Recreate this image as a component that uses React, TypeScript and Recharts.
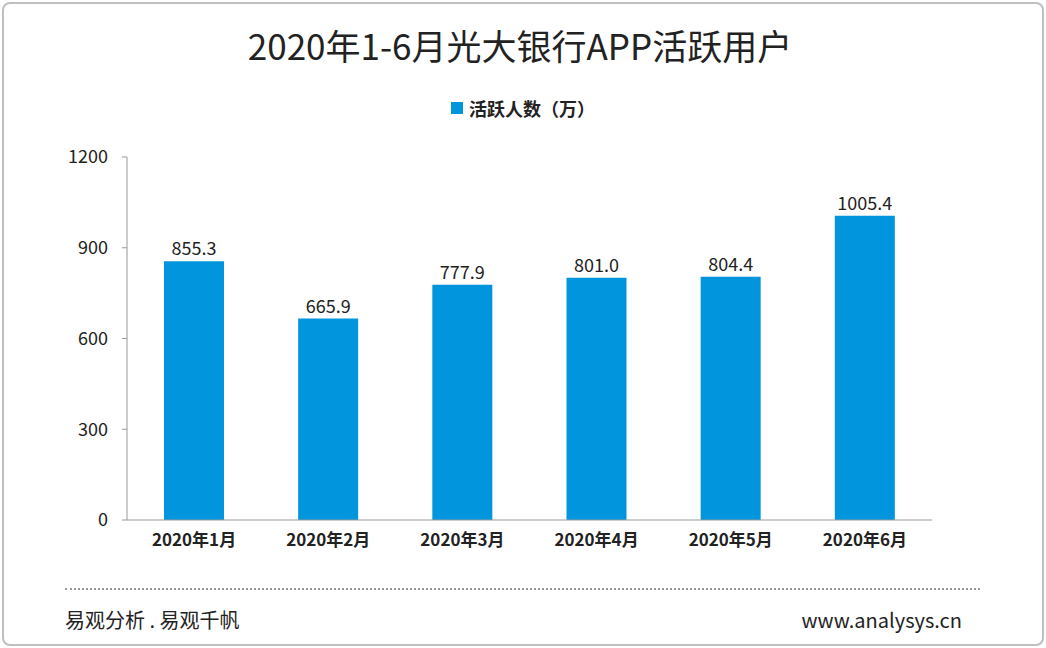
import { BarChart, Bar, XAxis, YAxis, LabelList } from "recharts"

const months = ["2020年1月", "2020年2月", "2020年3月", "2020年4月", "2020年5月", "2020年6月"]
const activeUsers = [855.3, 665.9, 777.9, 801.0, 804.4, 1005.4]
const yTicks = [0, 300, 600, 900, 1200]

const data = months.map((m, i) => ({ month: m, value: activeUsers[i] }))
const font = "'Noto Sans CJK SC', 'Noto Sans', sans-serif"

export default function App() {
  return (
    <div
      style={{
        position: "fixed",
        left: 0,
        top: 0,
        width: 1046,
        height: 648,
        background: "#fff",
        fontFamily: font,
        color: "#222",
      }}
    >
      <div
        style={{
          position: "absolute",
          left: 2,
          top: 2,
          width: 1038,
          height: 640,
          border: "2px solid #bfbfbf",
          borderRadius: 8,
        }}
      />
      <div style={{ position: "absolute", top: 19, width: 1040, textAlign: "center", fontSize: 35 }}>
        2020年1-6月光大银行APP活跃用户
      </div>
      <div
        style={{
          position: "absolute",
          top: 95,
          width: 1046,
          display: "flex",
          justifyContent: "center",
          alignItems: "center",
          gap: 6,
          fontSize: 18,
          fontWeight: 700,
        }}
      >
        <div style={{ width: 12, height: 12, background: "#0095dc" }} />
        <span>活跃人数（万）</span>
      </div>
      <div style={{ position: "absolute", left: 0, top: 0 }}>
        <BarChart
          width={1046}
          height={560}
          data={data}
          margin={{ top: 157, right: 114, left: 67, bottom: 10 }}
        >
          <XAxis
            dataKey="month"
            height={30}
            tickLine={false}
            axisLine={{ stroke: "#999" }}
            tick={{ fill: "#222", fontSize: 17, fontWeight: 600, fontFamily: font }}
            tickMargin={8}
          />
          <YAxis
            width={60}
            domain={[0, 1200]}
            ticks={yTicks}
            axisLine={{ stroke: "#999" }}
            tickLine={{ stroke: "#999" }}
            tickSize={5}
            tickMargin={14}
            tick={{ fill: "#222", fontSize: 18, fontFamily: font }}
          />
          <Bar dataKey="value" fill="#0095dc" barSize={60} isAnimationActive={false}>
            <LabelList
              dataKey="value"
              position="top"
              offset={6}
              formatter={(v: number) => v.toFixed(1)}
              style={{ fill: "#222", fontSize: 18, fontFamily: font }}
            />
          </Bar>
        </BarChart>
      </div>
      <div
        style={{
          position: "absolute",
          left: 65,
          top: 588,
          width: 915,
          borderTop: "2px dotted #999",
        }}
      />
      <div style={{ position: "absolute", left: 65, top: 605, fontSize: 20 }}>易观分析 . 易观千帆</div>
      <div style={{ position: "absolute", right: 84, top: 605, fontSize: 20 }}>www.analysys.cn</div>
    </div>
  )
}
